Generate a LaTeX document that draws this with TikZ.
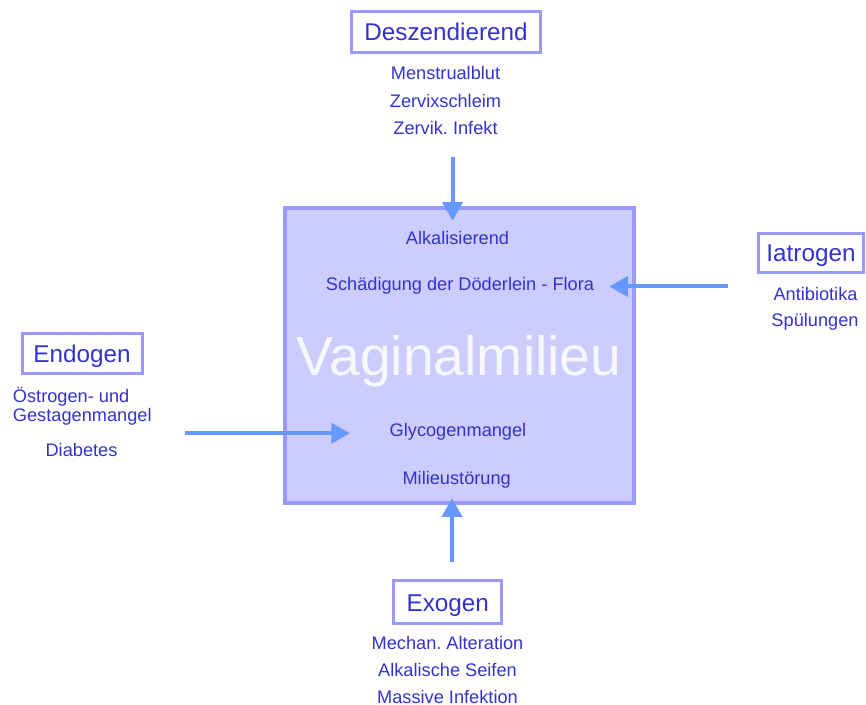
\documentclass[tikz,border=0pt]{standalone}
\usepackage{fontspec}
\setmainfont{Liberation Sans}
\usetikzlibrary{arrows.meta}
\definecolor{milieutext}{RGB}{51,51,204}
\definecolor{milieuframe}{RGB}{153,153,255}
\definecolor{milieufill}{RGB}{204,204,255}
\definecolor{milieuarrow}{RGB}{102,153,255}
\definecolor{milieuname}{RGB}{248,248,252}
\frenchspacing
\begin{document}
\begin{tikzpicture}[x=.75pt,y=-.75pt,
    item/.style={text=milieutext,font=\fontsize{13.65}{16}\selectfont,inner sep=0pt,anchor=base},
    head/.style={draw=milieuframe,line width=2.25pt,text=milieutext,
      font=\fontsize{18.2}{22}\selectfont,text height=13.5pt,text depth=0pt,inner sep=0pt},
    push/.style={draw=milieuarrow,line width=3pt,-{Triangle[width=15pt,length=14pt]}}]
  \useasboundingbox (0,0) rectangle (866,705);
  % das Milieu
  \node[draw=milieuframe,fill=milieufill,line width=3pt,inner sep=0pt,
    minimum width=261.75pt,minimum height=221.25pt] (milieu) at (459.5,355.5) {};
  \node[item] (alkal) at (457.5,245) {Alkalisierend};
  \node[item] (flora) at (460,291) {Schädigung der Döderlein - Flora};
  \node[text=milieuname,font=\fontsize{41.5}{48}\selectfont,inner sep=0pt,anchor=base]
    (vagmil) at (459,375) {Vaginalmilieu};
  \node[item] (glyco) at (458,436.7) {Glycogenmangel};
  \node[item] (stoer) at (456.7,484) {Milieustörung};
  % Deszendierend
  \node[head,minimum width=141.75pt,minimum height=30.75pt] (desz) at (446,32) {Deszendierend};
  \node[item] (desz1) at (445.5,80) {Menstrualblut};
  \node[item] (desz2) at (445.5,108) {Zervixschleim};
  \node[item] (desz3) at (445.5,135) {Zervik. Infekt};
  % Iatrogen
  \node[head,minimum width=78.75pt,minimum height=29.5pt] (iatro) at (811,253) {Iatrogen};
  \node[item] (iatro1) at (815.5,300.7) {Antibiotika};
  \node[item] (iatro2) at (815,327) {Spülungen};
  % Endogen
  \node[head,minimum width=90pt,minimum height=29.25pt] (endo) at (82,353.5) {Endogen};
  \node[item,anchor=base west] (endo1) at (12.7,402.7) {Östrogen- und};
  \node[item,anchor=base west] (endo2) at (12.7,421.7) {Gestagenmangel};
  \node[item] (endo3) at (81.5,456.7) {Diabetes};
  % Exogen
  \node[head,minimum width=81pt,minimum height=32pt] (exo) at (447.8,602) {Exogen};
  \node[item] (exo1) at (447.5,649.3) {Mechan. Alteration};
  \node[item] (exo2) at (447.5,676.7) {Alkalische Seifen};
  \node[item] (exo3) at (447.5,703) {Massive Infektion};
  % Pfeile
  \coordinate (desz-from) at (452.5,157);
  \coordinate (desz-to) at (452.5,220.7);
  \coordinate (iatro-from) at (728.3,286.5);
  \coordinate (iatro-to) at (609.3,286.5);
  \coordinate (endo-from) at (185,433.3);
  \coordinate (endo-to) at (350,433.3);
  \coordinate (exo-from) at (452,561.7);
  \coordinate (exo-to) at (452,498.3);
  \draw[push] (desz-from) -- (desz-to);
  \draw[push] (iatro-from) -- (iatro-to);
  \draw[push] (endo-from) -- (endo-to);
  \draw[push] (exo-from) -- (exo-to);
\end{tikzpicture}
\end{document}
